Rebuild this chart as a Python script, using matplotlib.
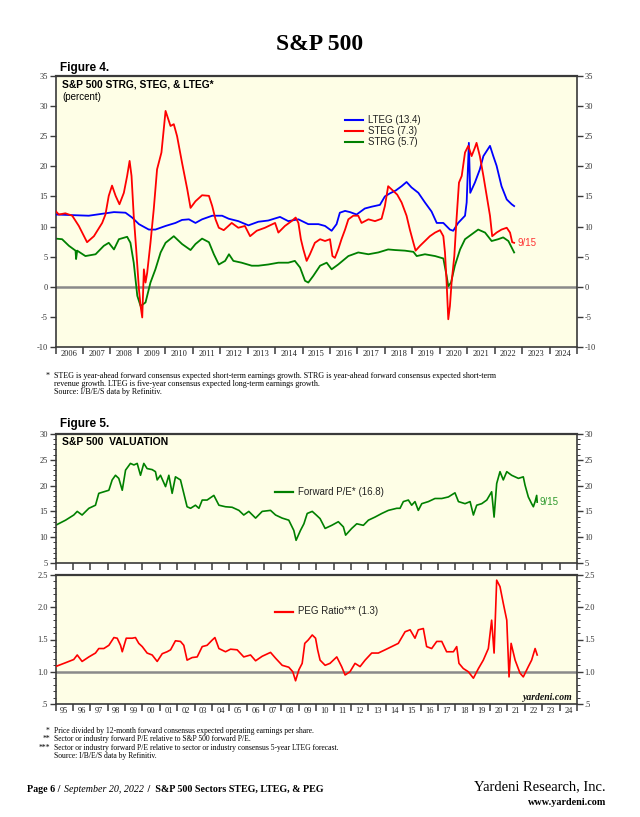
import matplotlib
matplotlib.use('Agg')
import matplotlib.pyplot as plt
from matplotlib.ticker import MultipleLocator, FixedLocator, NullFormatter, FuncFormatter

plt.rcParams['axes.unicode_minus'] = False
plt.rcParams['font.family'] = ['Liberation Sans', 'DejaVu Sans']

# ---------------- Figure 4 data (decimal years, percent) ----------------
steg_x = [2006.00, 2006.12, 2006.36, 2006.61, 2006.85, 2007.15, 2007.40, 2007.70, 2007.82, 2007.94,
          2008.06, 2008.19, 2008.33, 2008.49, 2008.61, 2008.70, 2008.77, 2008.85, 2008.94, 2009.04,
          2009.10, 2009.16, 2009.22, 2009.28, 2009.34, 2009.46, 2009.58, 2009.70, 2009.86, 2010.01,
          2010.19, 2010.31, 2010.43, 2010.61, 2010.80, 2010.92, 2011.10, 2011.34, 2011.59, 2011.71,
          2011.83, 2011.95, 2012.13, 2012.42, 2012.66, 2012.90, 2013.09, 2013.33, 2013.63, 2014.00,
          2014.12, 2014.36, 2014.60, 2014.75, 2014.85, 2014.94, 2015.03, 2015.15, 2015.27, 2015.45,
          2015.64, 2015.82, 2016.00, 2016.09, 2016.18, 2016.30, 2016.42, 2016.55, 2016.67, 2016.85,
          2017.03, 2017.15, 2017.40, 2017.64, 2017.88, 2018.00, 2018.12, 2018.31, 2018.45, 2018.61,
          2018.79, 2018.91, 2019.04, 2019.12, 2019.28, 2019.46, 2019.64, 2019.83, 2020.01, 2020.13,
          2020.19, 2020.25, 2020.31, 2020.37, 2020.43, 2020.53, 2020.61, 2020.70, 2020.80, 2020.92,
          2021.04, 2021.16, 2021.28, 2021.34, 2021.46, 2021.59, 2021.71, 2021.83, 2021.91, 2022.07,
          2022.25, 2022.44, 2022.56, 2022.64, 2022.71]
steg_y = [12.6, 12.0, 12.2, 11.8, 10.1, 7.4, 8.4, 10.6, 12.0, 15.1,
          16.8, 15.1, 13.7, 15.6, 18.4, 20.9, 18.4, 11.8, 6.2, -0.4,
          -3.2, -5.1, 2.9, 0.7, 2.3, 7.3, 12.9, 19.5, 22.3, 29.2,
          26.7, 27.0, 25.0, 20.6, 16.2, 13.1, 14.2, 15.2, 15.1, 13.4,
          11.2, 9.8, 9.4, 10.6, 9.8, 10.1, 8.4, 9.3, 9.8, 10.6,
          9.0, 10.1, 10.9, 11.5, 10.6, 7.9, 6.2, 4.3, 5.4, 7.3,
          7.9, 7.6, 7.9, 5.1, 4.8, 6.2, 7.9, 9.5, 11.2, 11.8,
          11.8, 10.6, 11.2, 10.9, 11.3, 13.4, 16.7, 15.9, 15.3, 14.0,
          11.8, 9.5, 7.3, 6.0, 6.8, 7.6, 8.4, 9.0, 9.4, 8.4,
          5.7, 0.7, -5.4, -3.2, 0.7, 5.1, 11.2, 17.3, 18.4, 22.3,
          23.4, 21.7, 23.1, 23.9, 21.7, 18.4, 15.1, 11.8, 8.4, 9.0,
          9.5, 9.8, 9.0, 7.4, 7.3]

lteg_x = [2006.00, 2006.61, 2007.21, 2007.82, 2008.13, 2008.55, 2008.79, 2009.04, 2009.40, 2009.64,
          2010.01, 2010.37, 2010.61, 2010.86, 2011.10, 2011.34, 2011.71, 2012.07, 2012.31, 2012.66,
          2013.03, 2013.39, 2013.75, 2014.18, 2014.48, 2014.85, 2015.21, 2015.58, 2015.82, 2016.06,
          2016.24, 2016.36, 2016.55, 2016.73, 2016.97, 2017.27, 2017.52, 2017.82, 2018.00, 2018.18,
          2018.40, 2018.61, 2018.79, 2018.97, 2019.22, 2019.46, 2019.70, 2019.89, 2020.13, 2020.37,
          2020.49, 2020.67, 2020.92, 2020.98, 2021.06, 2021.11, 2021.28, 2021.46, 2021.59, 2021.83,
          2021.95, 2022.07, 2022.25, 2022.44, 2022.62, 2022.71]
lteg_y = [12.0, 11.9, 11.8, 12.2, 12.4, 12.3, 11.5, 10.4, 9.5, 9.5,
          10.1, 10.6, 11.1, 11.2, 10.6, 11.2, 11.8, 11.8, 11.3, 10.9,
          10.2, 10.8, 11.0, 11.6, 10.9, 11.2, 10.4, 10.4, 10.1, 9.3,
          10.4, 12.3, 12.6, 12.4, 12.0, 13.0, 13.3, 13.6, 15.0, 15.5,
          16.0, 16.7, 17.4, 16.5, 15.6, 14.0, 12.5, 10.6, 10.6, 9.5,
          9.3, 10.6, 11.8, 14.0, 23.9, 15.6, 17.3, 19.5, 21.7, 23.4,
          21.7, 20.1, 16.7, 14.5, 13.7, 13.4]

strg_x = [2006.00, 2006.24, 2006.49, 2006.73, 2006.75, 2006.79, 2007.09, 2007.46, 2007.76, 2007.94,
          2008.13, 2008.31, 2008.61, 2008.73, 2008.85, 2008.98, 2009.10, 2009.28, 2009.46, 2009.64,
          2009.83, 2010.01, 2010.31, 2010.61, 2010.92, 2011.10, 2011.34, 2011.59, 2011.77, 2011.95,
          2012.18, 2012.32, 2012.48, 2012.78, 2013.15, 2013.39, 2013.75, 2014.12, 2014.48, 2014.72,
          2014.91, 2015.09, 2015.21, 2015.39, 2015.64, 2015.88, 2016.06, 2016.30, 2016.67, 2017.03,
          2017.40, 2017.76, 2018.12, 2018.37, 2018.73, 2019.04, 2019.16, 2019.46, 2019.83, 2020.13,
          2020.25, 2020.31, 2020.41, 2020.55, 2020.74, 2020.92, 2021.16, 2021.40, 2021.65, 2021.89,
          2022.13, 2022.31, 2022.50, 2022.71]
strg_y = [8.0, 7.9, 6.8, 6.0, 4.6, 6.0, 5.1, 5.4, 6.8, 7.3,
          6.2, 7.9, 8.3, 7.3, 4.0, -1.5, -3.2, -2.6, 0.7, 2.9,
          5.7, 7.3, 8.4, 7.1, 6.1, 7.1, 8.0, 7.4, 5.4, 3.7,
          4.3, 5.4, 4.3, 4.0, 3.5, 3.5, 3.7, 4.0, 4.0, 4.3,
          3.2, 1.0, 0.7, 1.8, 3.5, 4.0, 2.9, 3.7, 5.1, 5.7,
          5.4, 5.7, 6.2, 6.1, 6.0, 5.8, 5.1, 5.4, 5.1, 4.7,
          1.8, 0.1, 0.7, 3.5, 6.2, 7.9, 8.7, 9.5, 9.0, 7.6,
          7.9, 8.2, 7.6, 5.7]

# ---------------- Figure 5 data ----------------
pe_x = [1995.00, 1995.58, 1996.05, 1996.25, 1996.53, 1996.92, 1997.30, 1997.49, 1997.78, 1998.07,
        1998.26, 1998.45, 1998.64, 1998.84, 1999.03, 1999.31, 1999.51, 1999.70, 1999.89, 2000.08,
        2000.27, 2000.56, 2000.75, 2000.85, 2001.04, 2001.33, 2001.52, 2001.71, 2001.90, 2002.19,
        2002.38, 2002.57, 2002.77, 2003.05, 2003.25, 2003.44, 2003.72, 2004.11, 2004.40, 2004.78,
        2005.16, 2005.55, 2005.83, 2006.12, 2006.51, 2006.89, 2007.37, 2007.66, 2008.04, 2008.42,
        2008.71, 2008.84, 2009.09, 2009.29, 2009.48, 2009.77, 2010.00, 2010.22, 2010.51, 2010.89,
        2011.27, 2011.56, 2011.69, 2012.04, 2012.33, 2012.71, 2013.00, 2013.38, 2013.77, 2014.15,
        2014.63, 2014.82, 2015.01, 2015.30, 2015.49, 2015.68, 2015.87, 2016.07, 2016.45, 2016.83,
        2017.22, 2017.60, 2017.98, 2018.18, 2018.56, 2018.85, 2019.04, 2019.23, 2019.52, 2019.81,
        2020.09, 2020.23, 2020.38, 2020.57, 2020.76, 2020.96, 2021.24, 2021.63, 2021.91, 2022.01,
        2022.20, 2022.39, 2022.49, 2022.59, 2022.68, 2022.71]
pe_y = [12.3, 13.3, 14.3, 15.0, 14.3, 15.6, 16.2, 18.5, 18.8, 19.1,
        21.1, 22.0, 21.4, 19.1, 23.0, 24.3, 24.0, 24.3, 22.0, 24.3,
        23.3, 23.1, 22.7, 21.1, 22.0, 19.8, 22.0, 18.5, 21.7, 21.1,
        18.5, 15.9, 15.6, 16.2, 15.6, 17.2, 17.2, 18.1, 16.2, 15.9,
        15.8, 15.2, 14.3, 15.0, 13.7, 15.0, 15.2, 14.3, 13.7, 13.3,
        11.3, 9.4, 11.3, 12.6, 14.6, 15.0, 14.3, 13.6, 11.7, 12.3,
        13.0, 12.0, 10.4, 11.7, 12.6, 12.3, 13.3, 13.9, 14.6, 15.2,
        15.6, 15.6, 16.9, 17.2, 16.2, 16.9, 15.2, 16.5, 16.9, 17.5,
        17.5, 17.8, 18.6, 16.9, 16.5, 16.9, 14.3, 16.2, 16.5, 17.2,
        18.8, 13.9, 20.4, 22.7, 21.1, 22.7, 22.0, 21.4, 21.7, 20.1,
        17.8, 16.5, 15.9, 16.9, 18.1, 16.8]

peg_x = [1995.00, 1995.58, 1996.05, 1996.25, 1996.53, 1996.92, 1997.30, 1997.49, 1997.78, 1998.07,
         1998.36, 1998.55, 1998.74, 1998.84, 1999.07, 1999.41, 1999.60, 1999.79, 1999.99, 2000.27,
         2000.56, 2000.85, 2001.14, 2001.42, 2001.62, 2001.90, 2002.19, 2002.38, 2002.57, 2002.86,
         2003.15, 2003.44, 2003.72, 2004.01, 2004.17, 2004.40, 2004.78, 2005.07, 2005.45, 2005.83,
         2006.22, 2006.51, 2006.89, 2007.37, 2007.66, 2008.04, 2008.42, 2008.65, 2008.81, 2009.00,
         2009.19, 2009.34, 2009.53, 2009.77, 2009.96, 2010.08, 2010.22, 2010.51, 2010.79, 2011.18,
         2011.46, 2011.66, 2011.94, 2012.23, 2012.52, 2012.81, 2013.19, 2013.57, 2013.96, 2014.34,
         2014.72, 2015.11, 2015.40, 2015.68, 2015.87, 2016.16, 2016.35, 2016.64, 2016.93, 2017.22,
         2017.50, 2017.89, 2018.08, 2018.21, 2018.46, 2018.75, 2019.04, 2019.33, 2019.61, 2019.90,
         2020.09, 2020.23, 2020.38, 2020.57, 2020.76, 2020.96, 2021.09, 2021.21, 2021.44, 2021.72,
         2021.91, 2022.20, 2022.39, 2022.59, 2022.71]
peg_y = [1.08, 1.14, 1.19, 1.26, 1.16, 1.23, 1.29, 1.36, 1.36, 1.41,
         1.53, 1.52, 1.41, 1.31, 1.52, 1.52, 1.53, 1.44, 1.39, 1.29,
         1.26, 1.16, 1.28, 1.31, 1.34, 1.48, 1.47, 1.41, 1.18, 1.22,
         1.23, 1.39, 1.41, 1.49, 1.53, 1.36, 1.31, 1.35, 1.34, 1.23,
         1.26, 1.17, 1.24, 1.30, 1.21, 1.10, 1.07, 1.00, 0.86, 1.03,
         1.13, 1.44, 1.49, 1.57, 1.52, 1.34, 1.18, 1.10, 1.13, 1.23,
         1.08, 0.95, 1.00, 1.13, 1.08, 1.18, 1.29, 1.29, 1.34, 1.39,
         1.44, 1.62, 1.65, 1.52, 1.65, 1.67, 1.39, 1.36, 1.47, 1.47,
         1.31, 1.31, 1.39, 1.13, 1.05, 1.00, 0.90, 1.05, 1.18, 1.36,
         1.80, 1.29, 2.42, 2.32, 2.06, 1.80, 0.92, 1.44, 1.18, 0.98,
         0.92, 1.08, 1.18, 1.36, 1.26]

fig4_years = list(range(2006, 2026))
fig5_years = list(range(1995, 2026))

BG = '#FEFEE6'
SPINE = '#3a3a3a'
SERIF = ['Liberation Serif', 'DejaVu Serif']
SANS = ['Liberation Sans', 'DejaVu Sans']

W, H = 640, 817
fig = plt.figure(figsize=(W / 100, H / 100), dpi=100)


def fx(x):
    return x / W


def fy(y):
    return 1 - y / H


def add_ax(l, t, r, b):
    return fig.add_axes([fx(l), fy(b), (r - l) / W, (b - t) / H])


def style_axes(ax, years, label_fmt, show_labels=True):
    ax.set_facecolor(BG)
    for s in ax.spines.values():
        s.set_color(SPINE)
        s.set_linewidth(1.2)
    ax.spines['top'].set_linewidth(1.6)
    ax.set_xlim(years[0], years[-1])
    ax.xaxis.set_major_locator(FixedLocator(years))
    ax.xaxis.set_major_formatter(NullFormatter())
    ax.xaxis.set_minor_locator(FixedLocator([y + 0.5 for y in years[:-1]]))
    if show_labels:
        ax.xaxis.set_minor_formatter(FuncFormatter(lambda v, p: label_fmt(int(v))))
    else:
        ax.xaxis.set_minor_formatter(NullFormatter())
    ax.tick_params(axis='x', which='major', direction='out', length=5, width=1.1, color=SPINE)
    ax.tick_params(axis='x', which='minor', length=0, pad=2, labelsize=6, labelcolor='#222222')
    ax.tick_params(axis='y', which='both', direction='out', left=True, right=True,
                   labelleft=True, labelright=True, labelsize=6, labelcolor='#333333',
                   color=SPINE, pad=1.5)
    ax.tick_params(axis='y', which='major', length=4, width=1.0)
    ax.tick_params(axis='y', which='minor', length=2, width=0.7)
    for lab in ax.get_xticklabels(which='both') + ax.get_yticklabels(which='both'):
        lab.set_fontfamily(SERIF)


# ---------------- page texts ----------------
fig.text(fx(320), fy(45), 'S&P 500', ha='center', va='center', fontsize=17,
         fontweight='bold', family=SERIF)
fig.text(fx(60), fy(67.5), 'Figure 4.', ha='left', va='center', fontsize=8.5,
         fontweight='bold', family=SANS)

# ---------------- Figure 4 ----------------
ax1 = add_ax(55.5, 76, 577, 347)
ax1.set_ylim(-10, 35)
ax1.yaxis.set_major_locator(MultipleLocator(5))
ax1.axhline(0, color='#8a8a8a', lw=1.8, zorder=1)
ax1.plot(lteg_x, lteg_y, color='#0000ff', lw=1.3, zorder=3)
ax1.plot(steg_x, steg_y, color='#ff0000', lw=1.3, zorder=4)
ax1.plot(strg_x, strg_y, color='#008000', lw=1.3, zorder=2)
style_axes(ax1, fig4_years, lambda y: str(y))
ax1.yaxis.set_major_formatter(FuncFormatter(lambda v, p: '%d' % v))
for lab in ax1.get_yticklabels():
    lab.set_fontfamily(SERIF)

fig.text(fx(62), fy(84.5), 'S&P 500 STRG, STEG, & LTEG*', ha='left', va='center',
         fontsize=7.4, fontweight='bold', family=SANS)
fig.text(fx(62), fy(96.5), '(percent)', ha='left', va='center', fontsize=7, family=SANS)

leg4 = [('LTEG (13.4)', '#0000ff', 120), ('STEG (7.3)', '#ff0000', 131),
        ('STRG (5.7)', '#008000', 142)]
for txt, col, yy in leg4:
    fig.add_artist(plt.Line2D([fx(345), fx(363)], [fy(yy), fy(yy)], color=col, lw=1.5))
    fig.text(fx(368), fy(yy), txt, ha='left', va='center', fontsize=7, family=SANS,
             color='#222222')
fig.text(fx(518), fy(243), '9/15', ha='left', va='center', fontsize=7, family=SANS,
         color='#ff3333')

foot4 = ['STEG is year-ahead forward consensus expected short-term earnings growth. STRG is year-ahead forward consensus expected short-term',
         'revenue growth. LTEG is five-year consensus expected long-term earnings growth.',
         'Source: I/B/E/S data by Refinitiv.']
fig.text(fx(50), fy(376), '*', ha='right', va='center', fontsize=5.8, family=SERIF)
for i, t in enumerate(foot4):
    fig.text(fx(54), fy(376 + 8.2 * i), t, ha='left', va='center', fontsize=5.8, family=SERIF)

# ---------------- Figure 5 ----------------
fig.text(fx(60), fy(424), 'Figure 5.', ha='left', va='center', fontsize=8.5,
         fontweight='bold', family=SANS)

ax2 = add_ax(55.5, 434, 577, 563)
ax2.set_ylim(5, 30)
ax2.yaxis.set_major_locator(MultipleLocator(5))
ax2.yaxis.set_minor_locator(MultipleLocator(1))
ax2.plot(pe_x, pe_y, color='#008000', lw=1.2)
style_axes(ax2, fig5_years, lambda y: '%02d' % (y % 100), show_labels=False)
ax2.yaxis.set_major_formatter(FuncFormatter(lambda v, p: '%d' % v))
for lab in ax2.get_yticklabels():
    lab.set_fontfamily(SERIF)

ax3 = add_ax(55.5, 575, 577, 704)
ax3.set_ylim(0.5, 2.5)
ax3.yaxis.set_major_locator(MultipleLocator(0.5))
ax3.yaxis.set_minor_locator(MultipleLocator(0.1))
ax3.axhline(1.0, color='#8a8a8a', lw=1.8, zorder=1)
ax3.plot(peg_x, peg_y, color='#ff0000', lw=1.2, zorder=3)
style_axes(ax3, fig5_years, lambda y: '%02d' % (y % 100))
ax3.yaxis.set_major_formatter(FuncFormatter(lambda v, p: '.5' if abs(v - 0.5) < 1e-6 else '%.1f' % v))
for lab in ax3.get_yticklabels():
    lab.set_fontfamily(SERIF)

fig.text(fx(62), fy(442), 'S&P 500  VALUATION', ha='left', va='center', fontsize=7.5,
         fontweight='bold', family=SANS)
fig.add_artist(plt.Line2D([fx(275), fx(293)], [fy(492), fy(492)], color='#008000', lw=1.6))
fig.text(fx(298), fy(492), 'Forward P/E* (16.8)', ha='left', va='center', fontsize=7,
         family=SANS, color='#222222')
fig.text(fx(540), fy(502), '9/15', ha='left', va='center', fontsize=7, family=SANS,
         color='#2e9a2e')
fig.add_artist(plt.Line2D([fx(275), fx(293)], [fy(611.5), fy(611.5)], color='#ff0000', lw=1.6))
fig.text(fx(298), fy(611.5), 'PEG Ratio*** (1.3)', ha='left', va='center', fontsize=7,
         family=SANS, color='#222222')
fig.text(fx(573), fy(697.5), 'yardeni.com', ha='right', va='center', fontsize=7,
         fontweight='bold', style='italic', family=SERIF, color='#111111')

foot5 = [('*', 'Price divided by 12-month forward consensus expected operating earnings per share.'),
         ('**', 'Sector or industry forward P/E relative to S&P 500 forward P/E.'),
         ('***', 'Sector or industry forward P/E relative to sector or industry consensus 5-year LTEG forecast.'),
         ('', 'Source: I/B/E/S data by Refinitiv.')]
for i, (star, t) in enumerate(foot5):
    yy = 731 + 8.3 * i
    if star:
        fig.text(fx(50), fy(yy), star, ha='right', va='center', fontsize=5.5, family=SERIF)
    fig.text(fx(54), fy(yy), t, ha='left', va='center', fontsize=5.5, family=SERIF)

# ---------------- footer (pieces chained left to right) ----------------
renderer = fig.canvas.get_renderer()
footer_parts = [('Page 6 / ', dict(fontweight='bold')),
                ('September 20, 2022', dict(style='italic')),
                (' /  S&P 500 Sectors STEG, LTEG, & PEG', dict(fontweight='bold'))]
xcur = 27.0
for txt, kw in footer_parts:
    t = fig.text(fx(xcur), fy(789), txt, ha='left', va='center', fontsize=7.2,
                 family=SERIF, **kw)
    bb = t.get_window_extent(renderer=renderer)
    xcur += bb.width + 1.0
fig.text(fx(606), fy(787), 'Yardeni Research, Inc.', ha='right', va='center', fontsize=10.5,
         family=SERIF)
fig.text(fx(606), fy(802.5), 'www.yardeni.com', ha='right', va='center', fontsize=7.3,
         fontweight='bold', family=SERIF)

fig.savefig('out.png', dpi=100, facecolor='white')
